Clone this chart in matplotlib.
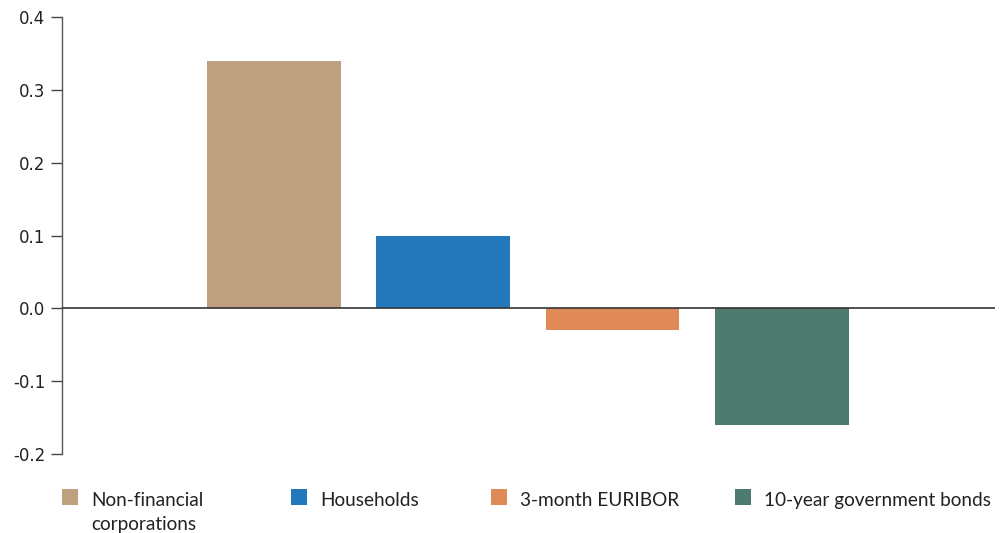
import matplotlib
matplotlib.use("Agg")
import matplotlib.pyplot as plt
from matplotlib.patches import Rectangle

plt.rcParams["font.family"] = ["DejaVu Sans"]

categories = ["Non-financial\ncorporations", "Households", "3-month EURIBOR", "10-year government bonds"]
values = [0.34, 0.099, -0.03, -0.16]
colors = ["#bea07f", "#2378bb", "#e08a58", "#4f7a70"]
yticks = [-0.2, -0.1, 0.0, 0.1, 0.2, 0.3, 0.4]
ytick_labels = ["-0.2", "-0.1", "0.0", "0.1", "0.2", "0.3", "0.4"]

fig = plt.figure(figsize=(10.08, 5.33), dpi=100)
ax = fig.add_axes([0.0615, 0.148, 0.9255, 0.820])

x = list(range(len(values)))
ax.bar(x, values, width=0.79, color=colors, zorder=2)
ax.axhline(0, color="#333333", lw=1.2, zorder=3)

ax.set_xlim(-1.252, 4.258)
ax.set_ylim(-0.2, 0.4)
ax.set_yticks(yticks)
ax.set_yticklabels(ytick_labels, fontsize=12, color="#222222")
ax.set_xticks([])
ax.tick_params(axis="y", length=8, width=1, color="#444444", pad=4)

for side in ["top", "right", "bottom"]:
    ax.spines[side].set_visible(False)
ax.spines["left"].set_color("#555555")
ax.spines["left"].set_linewidth(1)

# legend drawn as swatches and labels along the bottom
W, H = 1008, 533
legend_x = [62, 291, 491, 735]
sw = 16
sq_top = 489
baseline = 506
line_gap = 24
for lx, lab, col in zip(legend_x, categories, colors):
    fig.add_artist(Rectangle((lx / W, 1 - (sq_top + sw) / H), sw / W, sw / H,
                             transform=fig.transFigure, color=col, lw=0))
    for i, line in enumerate(lab.split("\n")):
        fig.text((lx + 29) / W, 1 - (baseline + i * line_gap) / H, line,
                 fontsize=13.7, family="Lato", color="#222222",
                 va="baseline", ha="left")

fig.savefig("out.png", dpi=100)
